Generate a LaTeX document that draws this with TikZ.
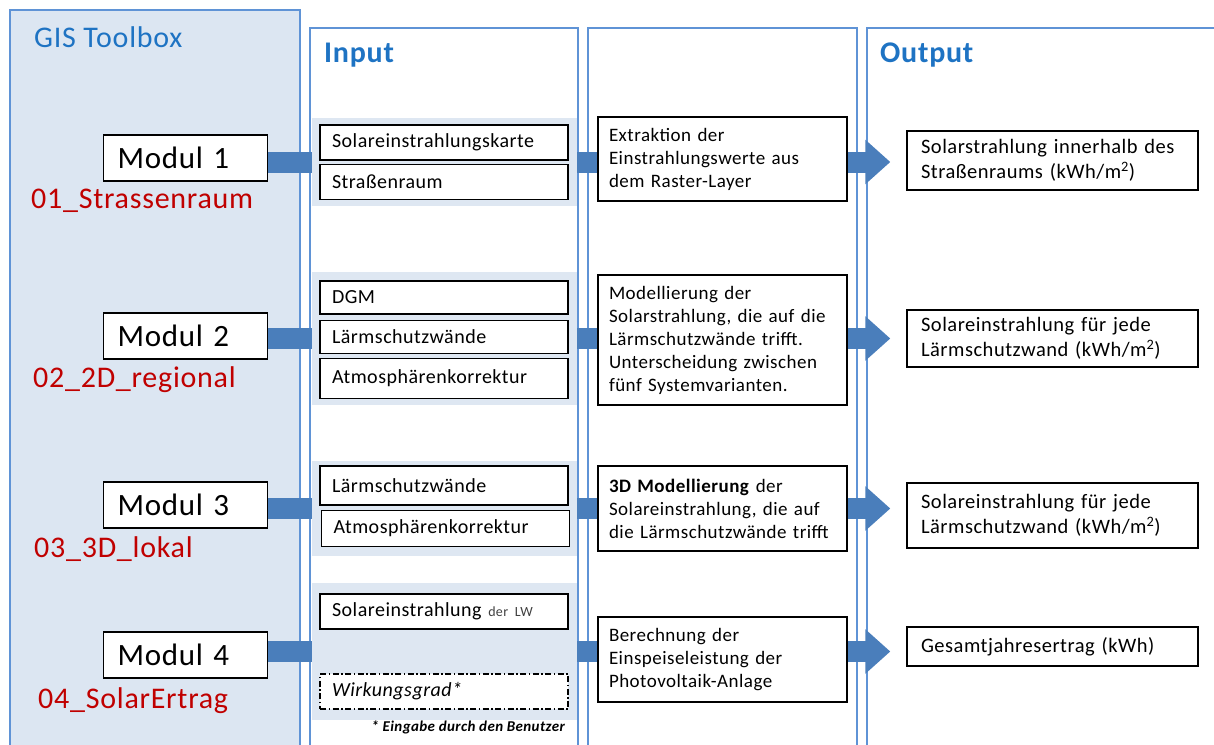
\documentclass[tikz,border=0pt]{standalone}
\usepackage{fontspec}
\setmainfont{Carlito}[LetterSpace=2.5]
\usepackage{xcolor}
\usepackage{tikz}
\usetikzlibrary{arrows.meta, positioning}
\definecolor{panelline}{HTML}{5F93D6}
\definecolor{panelfill}{HTML}{DCE6F2}
\definecolor{groupfill}{HTML}{DEE7F2}
\definecolor{titleblue}{HTML}{1E73C3}
\definecolor{barblue}{HTML}{4A7EBB}
\definecolor{modulred}{HTML}{C00000}
\tikzstyle{bar} = [line width=21pt, barblue]
\tikzstyle{arrow} = [line width=21pt, barblue, -{Triangle[width=43pt, length=25pt]}, shorten >=16pt]

\begin{document}
\begin{tikzpicture}[x=1pt, y=-1pt]
	% Define styles for the different elements of the diagram
	\tikzstyle{panel} = [draw=panelline, line width=1.3pt]
	\tikzstyle{title} = [anchor=west, inner sep=0pt, text=titleblue, font=\fontsize{30}{36}\selectfont]
	\tikzstyle{modul} = [rectangle, draw, line width=1.4pt, fill=white, minimum height=46pt, text width=136pt, inner xsep=14pt, align=left, font=\fontsize{31}{36}\selectfont]
	\tikzstyle{modulname} = [anchor=west, inner sep=0pt, text=modulred, font=\fontsize{30}{36}\selectfont]
	\tikzstyle{group} = [rectangle, fill=groupfill, minimum width=265pt]
	\tikzstyle{input} = [rectangle, draw, line width=1.1pt, fill=white, text width=224pt, inner xsep=12pt, align=left, font=\fontsize{20}{24}\selectfont]
	\tikzstyle{process} = [rectangle, draw, line width=1.4pt, fill=white, text width=227pt, inner xsep=11pt, align=left, font=\fontsize{19}{23}\selectfont]
	\tikzstyle{result} = [rectangle, draw, line width=1.4pt, fill=white, text width=263pt, inner xsep=14pt, align=left, font=\fontsize{20.5}{25}\selectfont]

	\useasboundingbox (0,0) rectangle (1214,744);
	\clip (0,0) rectangle (1214,744);

	% Panels
	\draw[panel, fill=panelfill] (10,10) rectangle (300,760);
	\draw[panel] (310,28) rectangle (578,760);
	\draw[panel] (588,28) rectangle (857,760);
	\draw[panel] (867,28) rectangle (1230,760);
	\node[title] (toolbox) at (34,37) {GIS Toolbox};
	\node[title, font=\fontsize{30}{36}\selectfont\bfseries] (input) at (324,55) {Input};
	\node[title, font=\fontsize{30}{36}\selectfont\bfseries] (output) at (880,55) {Output};

	% Modules
	\node[modul] (mod1) at (185.5,158) {Modul 1};
	\node[modul] (mod2) at (185.5,336) {Modul 2};
	\node[modul] (mod3) at (185.5,505) {Modul 3};
	\node[modul] (mod4) at (185.5,655) {Modul 4};
	\node[modulname] (name1) at (31,201) {01\_Strassenraum};
	\node[modulname] (name2) at (33,380) {02\_2D\_regional};
	\node[modulname] (name3) at (34,549) {03\_3D\_lokal};
	\node[modulname] (name4) at (38,701) {04\_SolarErtrag};

	% Input groups
	\node[group, minimum height=88pt] (grp1) at (444.5,162) {};
	\node[group, minimum height=133pt] (grp2) at (444.5,338.5) {};
	\node[group, minimum height=95pt] (grp3) at (444.5,508.5) {};
	\node[group, minimum height=137pt] (grp4) at (444.5,651.5) {};

	\node[input, minimum height=35pt] (in1a) at (444,142.5) {Solareinstrahlungskarte};
	\node[input, minimum height=35pt, below=3pt of in1a] (in1b) {Straßenraum};

	\node[input, minimum height=33pt] (in2a) at (444,297.5) {DGM};
	\node[input, minimum height=33pt, below=5pt of in2a] (in2b) {Lärmschutzwände};
	\node[input, minimum height=40pt, below=4pt of in2b] (in2c) {Atmosphärenkorrektur};

	\node[input, minimum height=39pt] (in3a) at (444,485.5) {Lärmschutzwände};
	\node[input, minimum height=36pt, below=4pt of in3a, xshift=1.5pt] (in3b) {Atmosphärenkorrektur};

	\node[input, minimum height=35pt] (in4a) at (444,611.5) {Solareinstrahlung {\fontsize{14}{16}\selectfont\color{black!75}der LW}};
	\node[input, minimum height=35pt, line width=1.3pt, dash pattern=on 6pt off 2.5pt on 1.5pt off 2.5pt, font=\fontsize{20}{24}\selectfont\itshape] (in4b) at (444,691.5) {Wirkungsgrad*};
	\node[anchor=east, inner sep=0pt, font=\fontsize{15}{17}\selectfont\bfseries\itshape] (note) at (565,727) {* Eingabe durch den Benutzer};

	% Processing
	\node[process, minimum height=84pt] (proc1) at (722.5,159) {Extraktion der\\Einstrahlungswerte aus\\dem Raster-Layer};
	\node[process, minimum height=130pt] (proc2) at (722.5,340) {Modellierung der\\Solarstrahlung, die auf die\\Lärmschutzwände trifft.\\Unterscheidung zwischen\\fünf Systemvarianten.};
	\node[process, minimum height=85pt] (proc3) at (722.5,508.5) {\textbf{3D Modellierung} der\\Solareinstrahlung, die auf\\die Lärmschutzwände trifft};
	\node[process, minimum height=85pt] (proc4) at (722.5,659.5) {Berechnung der\\Einspeiseleistung der\\Photovoltaik-Anlage};

	% Results
	\node[result, minimum height=59pt] (res1) at (1052.5,160.5) {Solarstrahlung innerhalb des\\Straßenraums (kWh/m\textsuperscript{2})};
	\node[result, minimum height=57pt] (res2) at (1052.5,338.5) {Solareinstrahlung für jede\\Lärmschutzwand (kWh/m\textsuperscript{2})};
	\node[result, minimum height=65pt] (res3) at (1052.5,515.5) {Solareinstrahlung für jede\\Lärmschutzwand (kWh/m\textsuperscript{2})};
	\node[result, minimum height=39pt] (res4) at (1052.5,646.5) {Gesamtjahresertrag (kWh)};

	% Connections
	\draw[bar] (grp1.west -| mod1.east) -- (grp1.west);
	\draw[bar] (grp1.east) -- (grp1.east -| proc1.west);
	\draw[arrow] (grp1.east -| proc1.east) -- (grp1.east -| res1.west);
	\draw[bar] (grp2.west -| mod2.east) -- (grp2.west);
	\draw[bar] (grp2.east) -- (grp2.east -| proc2.west);
	\draw[arrow] (grp2.east -| proc2.east) -- (grp2.east -| res2.west);
	\draw[bar] (grp3.west -| mod3.east) -- (grp3.west);
	\draw[bar] (grp3.east) -- (grp3.east -| proc3.west);
	\draw[arrow] (grp3.east -| proc3.east) -- (grp3.east -| res3.west);
	\draw[bar] (grp4.west -| mod4.east) -- (grp4.west);
	\draw[bar] (grp4.east) -- (grp4.east -| proc4.west);
	\draw[arrow] (grp4.east -| proc4.east) -- (grp4.east -| res4.west);
\end{tikzpicture}
\end{document}
